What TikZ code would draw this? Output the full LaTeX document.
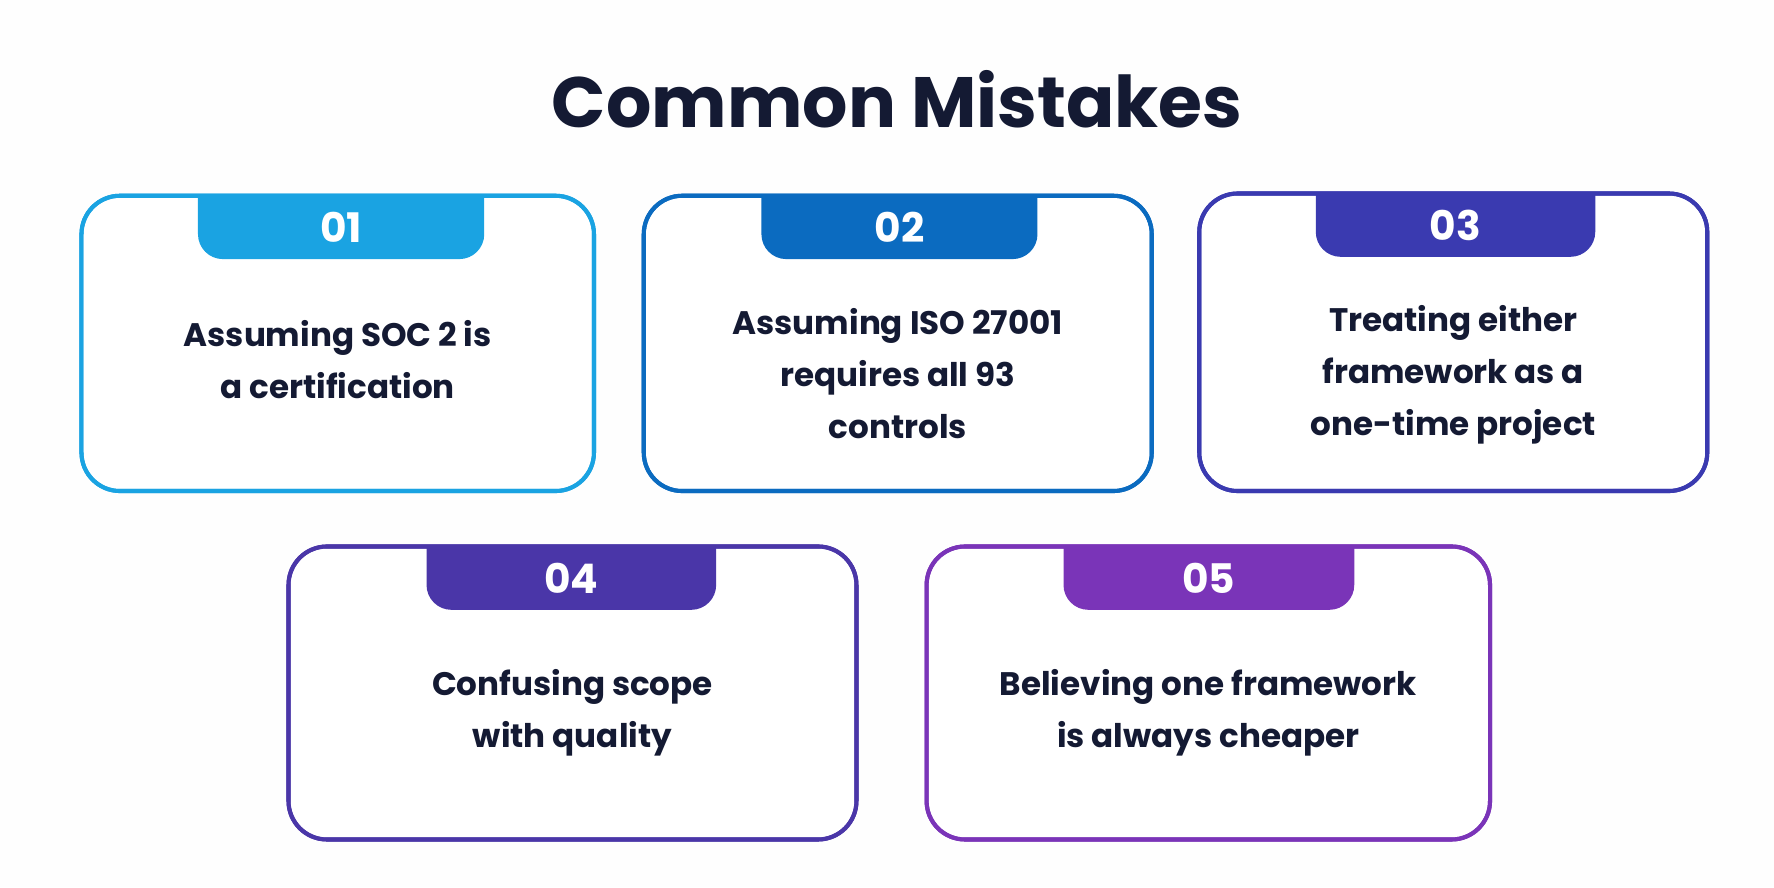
\documentclass[tikz,border=0pt]{standalone}
\usepackage{fontspec}
\setmainfont{Poppins}
\definecolor{navy}{HTML}{141A33}
\definecolor{c1}{HTML}{1AA3E2}
\definecolor{c2}{HTML}{0B6BC0}
\definecolor{c3}{HTML}{3A3AB0}
\definecolor{c4}{HTML}{4A36A8}
\definecolor{c5}{HTML}{7A34B8}
\begin{document}
\begin{tikzpicture}[x=0.5pt,y=-0.5pt,
  card/.style={draw=#1,line width=1.8pt,rounded corners=17pt,fill=white},
  tab/.style={fill=#1,rounded corners=11pt},
  num/.style={text=white,font=\fontsize{18}{20}\selectfont\bfseries},
  txt/.style={text=navy,align=center,font=\fontsize{14.4}{23}\selectfont\bfseries}]
\fill[white!99!gray] (0,0) rectangle (1568,784);
\useasboundingbox (0,0) rectangle (1568,784);
\node[text=navy,font=\fontsize{31.5}{36}\selectfont\bfseries] (title) at (793,88) {Common Mistakes};
\newcommand\mycard[8]{%
  \draw[card=#7] (#1,#2) rectangle (#3,#4);
  \begin{scope}
  \clip[rounded corners=17pt] (#1,#2) rectangle (#3,#4);
  \fill[tab=#7] (#5,#2-20) rectangle (#6,#2+56);
  \end{scope}
  \draw[draw=#7,line width=1.8pt,rounded corners=17pt] (#1,#2) rectangle (#3,#4);
  \node[num] (n#8) at ({(#5+#6)/2},#2+28) {0#8};
}
\mycard{72}{173}{525}{434}{175}{428}{c1}{1}
\mycard{569}{173}{1018}{434}{673}{917}{c2}{2}
\mycard{1060}{171}{1509}{434}{1163}{1410}{c3}{3}
\mycard{255}{483}{757}{742}{377}{633}{c4}{4}
\mycard{819}{483}{1317}{742}{940}{1197}{c5}{5}
\node[txt] (t1) at (298.5,318) {Assuming SOC 2 is\\a certification};
\node[txt] (t2) at (793.5,330) {Assuming ISO 27001\\requires all 93\\controls};
\node[txt] (t3) at (1284.5,331) {Treating either\\framework as a\\one-time project};
\node[txt] (t4) at (506,630) {Confusing scope\\with quality};
\node[txt] (t5) at (1068,630) {Believing one framework\\is always cheaper};
\end{tikzpicture}
\end{document}
